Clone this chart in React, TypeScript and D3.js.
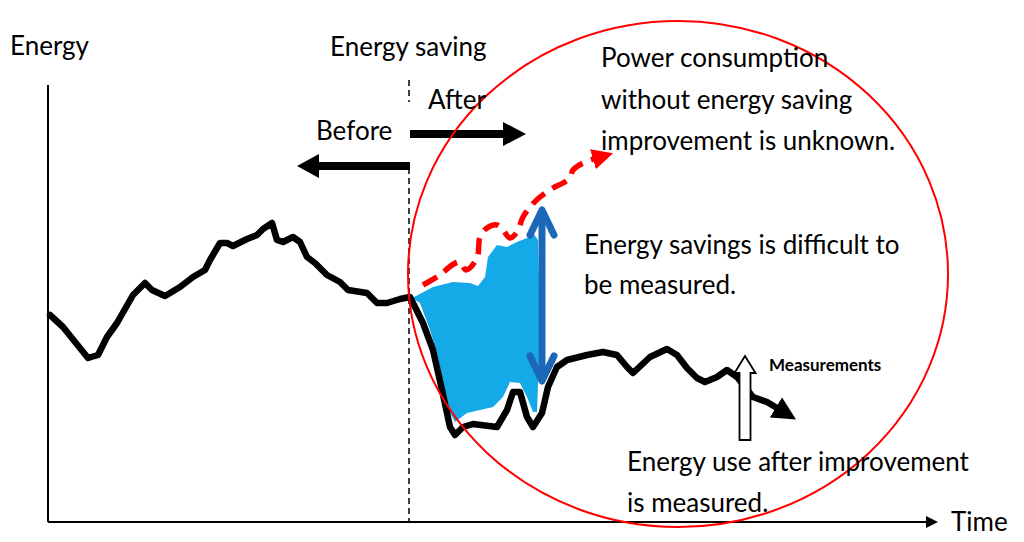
import { useEffect, useRef } from "react";
import * as d3 from "d3";

// energy use over time (arbitrary units)
const usageTime = [
  2, 15, 40, 50, 59, 69, 85, 97, 104, 117, 132, 145, 157, 162, 172, 179, 185, 199, 209, 215,
  224, 229, 235, 245, 252, 259, 267, 279, 292, 300, 319, 329, 339, 352, 362, 375, 385, 394,
  402, 407, 415, 425, 449, 459, 465, 472, 479, 485, 494, 500, 509, 519, 539, 555, 569, 579,
  585, 602, 619, 629, 639, 649, 657, 669, 679, 689, 705, 719, 734,
];
const usageEnergy = [
  207, 195, 164, 167, 185, 199, 227, 239, 232, 226, 235, 245, 252, 262, 279, 279, 276, 283, 287, 293,
  299, 282, 280, 285, 280, 265, 259, 247, 240, 232, 229, 219, 219, 223, 225, 199, 172, 132,
  95, 87, 95, 98, 95, 112, 130, 130, 105, 95, 109, 135, 155, 162, 167, 170, 167, 155,
  149, 165, 173, 167, 154, 144, 140, 145, 152, 145, 125, 120, 111,
];

// estimated use without the improvement (unknown baseline)
const baselineTime = [375, 392, 404, 412, 418, 429, 432, 439, 449, 455, 462, 469, 475, 482, 492, 505, 515, 522, 525, 535, 549];
const baselineEnergy = [237, 247, 257, 260, 252, 264, 285, 294, 297, 292, 284, 290, 305, 315, 325, 334, 339, 344, 352, 359, 364];

// saving region outline: upper edge then lower edge back
const savingTime = [
  364, 370, 385, 405, 422, 430, 437, 440, 449, 459, 469, 479, 485, 490, 492, 489,
  485, 479, 472, 462, 455, 445, 432, 419, 407, 402, 395, 389, 382, 372,
];
const savingEnergy = [
  224, 227, 235, 240, 239, 236, 245, 265, 277, 275, 280, 284, 289, 282, 192, 110,
  110, 125, 139, 140, 125, 115, 112, 109, 100, 109, 139, 169, 192, 219,
];

const improvementTime = 361;
const savingArrow = { t: 494, from: 139, to: 314 };
const measureArrow = { t: 697, from: 82, to: 166 };
const focus = { t: 630, e: 248, rt: 270, re: 253 };

const W = 1024;
const H = 542;
const FONT = "Lato, 'Open Sans', sans-serif";

export default function App() {
  const ref = useRef<SVGSVGElement>(null);

  useEffect(() => {
    const svg = d3.select(ref.current);
    svg.selectAll("*").remove();

    const x = d3.scaleLinear().domain([0, 900]).range([48, 948]);
    const y = d3.scaleLinear().domain([0, 440]).range([522, 82]);

    const defs = svg.append("defs");
    defs
      .append("marker")
      .attr("id", "headBlack")
      .attr("viewBox", "0 0 10 10")
      .attr("refX", 3)
      .attr("refY", 5)
      .attr("markerWidth", 3.6)
      .attr("markerHeight", 3.6)
      .attr("orient", "auto")
      .attr("markerUnits", "strokeWidth")
      .append("path")
      .attr("d", "M0,0 L10,5 L0,10 Z")
      .attr("fill", "#000");
    defs
      .append("marker")
      .attr("id", "headRed")
      .attr("viewBox", "0 0 10 10")
      .attr("refX", 2)
      .attr("refY", 5)
      .attr("markerWidth", 3.8)
      .attr("markerHeight", 3.8)
      .attr("orient", "auto")
      .attr("markerUnits", "strokeWidth")
      .append("path")
      .attr("d", "M0,0 L10,5 L0,10 Z")
      .attr("fill", "#ff0000");

    // axes
    svg
      .append("line")
      .attr("x1", x(0))
      .attr("x2", x(0))
      .attr("y1", y(0))
      .attr("y2", y(437))
      .attr("stroke", "#000")
      .attr("stroke-width", 2);
    svg
      .append("line")
      .attr("x1", x(0))
      .attr("x2", x(880))
      .attr("y1", y(0))
      .attr("y2", y(0))
      .attr("stroke", "#000")
      .attr("stroke-width", 2);
    svg
      .append("path")
      .attr("d", `M${x(878)},${y(0) - 6} L${x(890)},${y(0)} L${x(878)},${y(0) + 6} Z`)
      .attr("fill", "#000");

    // improvement moment
    const xi = x(improvementTime);
    svg
      .append("line")
      .attr("x1", xi)
      .attr("x2", xi)
      .attr("y1", 80)
      .attr("y2", 102)
      .attr("stroke", "#000")
      .attr("stroke-width", 1.5)
      .attr("stroke-dasharray", "6,4");
    svg
      .append("line")
      .attr("x1", xi)
      .attr("x2", xi)
      .attr("y1", 168)
      .attr("y2", y(0))
      .attr("stroke", "#000")
      .attr("stroke-width", 1.5)
      .attr("stroke-dasharray", "6,4");

    // before / after arrows
    const ab = 166;
    svg
      .append("line")
      .attr("x1", xi + 1)
      .attr("x2", 316)
      .attr("y1", ab)
      .attr("y2", ab)
      .attr("stroke", "#000")
      .attr("stroke-width", 8);
    svg
      .append("path")
      .attr("d", `M297,${ab} L319,${ab - 12} L319,${ab + 12} Z`)
      .attr("fill", "#000");
    const aa = 134;
    svg
      .append("line")
      .attr("x1", xi + 1)
      .attr("x2", 505)
      .attr("y1", aa)
      .attr("y2", aa)
      .attr("stroke", "#000")
      .attr("stroke-width", 8);
    svg
      .append("path")
      .attr("d", `M526,${aa} L503,${aa - 12} L503,${aa + 12} Z`)
      .attr("fill", "#000");

    // saving region
    const pts = savingTime.map((t, i) => [t, savingEnergy[i]] as [number, number]);
    svg
      .append("path")
      .attr(
        "d",
        d3
          .line<[number, number]>()
          .x((d) => x(d[0]))
          .y((d) => y(d[1]))
          .curve(d3.curveLinearClosed)(pts)
      )
      .attr("fill", "#14aae8");

    // baseline (dashed red)
    const base = baselineTime.map((t, i) => [t, baselineEnergy[i]] as [number, number]);
    svg
      .append("path")
      .attr(
        "d",
        d3
          .line<[number, number]>()
          .x((d) => x(d[0]))
          .y((d) => y(d[1]))
          .curve(d3.curveCatmullRom)(base)
      )
      .attr("fill", "none")
      .attr("stroke", "#ff0000")
      .attr("stroke-width", 5.5)
      .attr("stroke-dasharray", "16,9")
      .attr("marker-end", "url(#headRed)");

    // energy use line
    const use = usageTime.map((t, i) => [t, usageEnergy[i]] as [number, number]);
    svg
      .append("path")
      .attr(
        "d",
        d3
          .line<[number, number]>()
          .x((d) => x(d[0]))
          .y((d) => y(d[1]))(use)
      )
      .attr("fill", "none")
      .attr("stroke", "#000")
      .attr("stroke-width", 6.5)
      .attr("stroke-linejoin", "round")
      .attr("stroke-linecap", "round")
      .attr("marker-end", "url(#headBlack)");

    // savings double arrow
    const sx = x(savingArrow.t);
    const sTop = y(savingArrow.to);
    const sBot = y(savingArrow.from);
    const blue = "#1b68b8";
    svg
      .append("line")
      .attr("x1", sx)
      .attr("x2", sx)
      .attr("y1", sTop + 3)
      .attr("y2", sBot - 3)
      .attr("stroke", blue)
      .attr("stroke-width", 7);
    svg
      .append("path")
      .attr("d", `M${sx - 12},${sTop + 27} L${sx},${sTop + 2} L${sx + 12},${sTop + 27}`)
      .attr("fill", "none")
      .attr("stroke", blue)
      .attr("stroke-width", 7)
      .attr("stroke-linecap", "round")
      .attr("stroke-linejoin", "round");
    svg
      .append("path")
      .attr("d", `M${sx - 12},${sBot - 27} L${sx},${sBot - 2} L${sx + 12},${sBot - 27}`)
      .attr("fill", "none")
      .attr("stroke", blue)
      .attr("stroke-width", 7)
      .attr("stroke-linecap", "round")
      .attr("stroke-linejoin", "round");

    // measurement arrow (hollow)
    const mx = x(measureArrow.t);
    const mTop = y(measureArrow.to);
    const mBot = y(measureArrow.from);
    svg
      .append("path")
      .attr(
        "d",
        `M${mx - 5.5},${mBot} L${mx - 5.5},${mTop + 17} L${mx - 10.5},${mTop + 17} L${mx},${mTop} ` +
          `L${mx + 10.5},${mTop + 17} L${mx + 5.5},${mTop + 17} L${mx + 5.5},${mBot} Z`
      )
      .attr("fill", "#fff")
      .attr("stroke", "#000")
      .attr("stroke-width", 1.8);

    // focus ellipse
    svg
      .append("ellipse")
      .attr("cx", x(focus.t))
      .attr("cy", y(focus.e))
      .attr("rx", x(focus.rt) - x(0))
      .attr("ry", y(0) - y(focus.re))
      .attr("fill", "none")
      .attr("stroke", "#ff0000")
      .attr("stroke-width", 2);

    // labels
    const label = (tx: number, ty: number, s: string, size = 26, weight = "normal") =>
      svg
        .append("text")
        .attr("x", tx)
        .attr("y", ty)
        .attr("font-family", FONT)
        .attr("font-size", size)
        .attr("font-weight", weight)
        .attr("fill", "#000")
        .text(s);

    label(10, 55, "Energy");
    label(330, 56, "Energy saving");
    label(428, 109, "After");
    label(316, 140, "Before");
    label(601, 67, "Power consumption");
    label(601, 109, "without energy saving");
    label(601, 150, "improvement is unknown.");
    label(584, 254, "Energy savings is difficult to");
    label(584, 294, "be measured.");
    label(769, 371, "Measurements", 17, "bold");
    label(627, 471, "Energy use after improvement");
    label(627, 512, "is measured.");
    label(951, 531, "Time");
  }, []);

  return (
    <svg
      ref={ref}
      width={W}
      height={H}
      style={{ position: "absolute", left: 0, top: 0, background: "#fff" }}
    />
  );
}
